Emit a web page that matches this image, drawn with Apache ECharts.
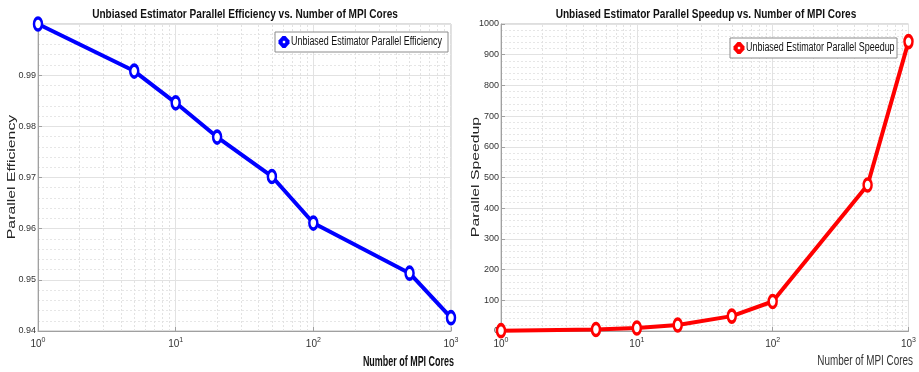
<!DOCTYPE html>
<html><head><meta charset="utf-8">
<script src="https://cdn.jsdelivr.net/npm/echarts@6/dist/echarts.min.js"></script>
<style>html,body{margin:0;padding:0;background:#fff}#c{width:919px;height:372px}</style>
</head><body><div id="c"></div>
<script>
const cores = [1, 5, 10, 20, 50, 100, 500, 1000];
const efficiency = [1.0, 0.9908, 0.9846, 0.9779, 0.9702, 0.9611, 0.9513, 0.9426];
const speedup = [1.0, 4.95, 9.85, 19.56, 48.51, 96.11, 475.6, 942.6];
const minorX = [2,3,4,5,6,7,8,9,20,30,40,50,60,70,80,90,200,300,400,500,600,700,800,900];
const titles = ['Unbiased Estimator Parallel Efficiency vs. Number of MPI Cores', 'Unbiased Estimator Parallel Speedup vs. Number of MPI Cores'];
const seriesNames = ['Unbiased Estimator Parallel Efficiency', 'Unbiased Estimator Parallel Speedup'];
const yNames = ['Parallel Efficiency', 'Parallel Speedup'];
const xName = 'Number of MPI Cores';

const FONT = '"Liberation Sans", Arial, Helvetica, sans-serif';
const chart = echarts.init(document.getElementById('c'));

function xAxis(gi) {
  return {
    type: 'log', logBase: 10, min: 1, max: 1000, gridIndex: gi,
    axisLine: {show: true, lineStyle: {color: '#a0a0a0'}},
    axisTick: {show: true, inside: true, length: 4, lineStyle: {color: '#a0a0a0'}},
    splitLine: {show: true, lineStyle: {color: '#e2e2e2', width: 1}},
    axisLabel: {
      margin: 6, color: '#333', fontFamily: FONT, fontSize: 10,
      formatter: v => '10{s|' + Math.round(Math.log10(v)) + '}',
      rich: {s: {fontSize: 7, padding: [0, 0, 7, 0], fontFamily: FONT, color: '#333'}}
    }
  };
}
function mk(gi, name, data, color) {
  return {
    name: name, type: 'line', xAxisIndex: gi, yAxisIndex: gi,
    data: cores.map((c, i) => [c, data[i]]),
    lineStyle: {color: color, width: 4},
    symbol: 'circle', symbolSize: [8, 12],
    itemStyle: {color: '#fff', borderColor: color, borderWidth: 3},
    z: 3
  };
}
function minor(gi) {
  return {
    type: 'line', xAxisIndex: gi, yAxisIndex: gi, data: [], silent: true, z: 1,
    markLine: {
      z: 1, silent: true, symbol: 'none', label: {show: false},
      lineStyle: {color: '#e2e2e2', type: [2, 2], width: 1},
      emphasis: {disabled: true},
      data: minorX.map(v => ({xAxis: v}))
    }
  };
}
function yAxis(gi, min, max, interval, fmt) {
  return {
    type: 'value', gridIndex: gi, min: min, max: max, interval: interval,
    axisLine: {show: true, lineStyle: {color: '#a0a0a0'}},
    axisTick: {show: true, inside: true, length: 4, lineStyle: {color: '#a0a0a0'}},
    axisLabel: {showMaxLabel: gi === 1, margin: 2, color: '#333', fontFamily: FONT, fontSize: 9, formatter: fmt},
    splitLine: {show: true, lineStyle: {color: '#e2e2e2'}},
    minorTick: {show: false, splitNumber: 5},
    minorSplitLine: {show: true, lineStyle: {color: '#e6e6e6', type: [2, 2]}}
  };
}
function narrowText(x, y, text, size, weight, align, sx, fill) {
  return {type: 'text', x: x, y: y, scaleX: sx, silent: true, z: 100,
    style: {text: text, fontFamily: FONT, fontSize: size, fontWeight: weight, fill: fill, align: align, verticalAlign: 'middle'}};
}
function yName(x, text) {
  return {type: 'text', x: x, y: 177, rotation: Math.PI / 2, scaleY: 0.66, silent: true, z: 100,
    style: {text: text, fontFamily: FONT, fontSize: 15.8, fill: '#222', align: 'center', verticalAlign: 'middle'}};
}
function legendParts(x, y, w, h, name, color) {
  const cy = y + h / 2, ix = x + 9;
  return [
    {type: 'rect', z: 100, silent: true, shape: {x: x, y: y, width: w, height: h}, style: {fill: '#fff', stroke: '#8c8c8c', lineWidth: 1}},
    {type: 'polygon', z: 101, silent: true, shape: {points: [[ix - 1.5, cy - 6], [ix + 1.5, cy - 6], [ix + 5.5, cy - 1.5], [ix + 5.5, cy + 1.5], [ix + 1.5, cy + 6], [ix - 1.5, cy + 6], [ix - 5.5, cy + 1.5], [ix - 5.5, cy - 1.5]]},
     style: {fill: color}},
    {type: 'rect', z: 102, silent: true, shape: {x: ix - 1.2, y: cy - 1.2, width: 2.4, height: 2.4}, style: {fill: '#fff'}},
    Object.assign(narrowText(x + 16, cy, name, 12, 'normal', 'left', 0.745, '#111'), {z: 103})
  ];
}

const option = {
  animation: false,
  grid: [
    {left: 38, top: 24, width: 413, height: 307, show: true, borderColor: '#bdbdbd', borderWidth: 1, backgroundColor: '#fff'},
    {left: 501, top: 24, width: 411, height: 307, show: true, borderColor: '#bdbdbd', borderWidth: 1, backgroundColor: '#fff'}
  ],
  xAxis: [xAxis(0), xAxis(1)],
  yAxis: [
    yAxis(0, 0.94, 1.0, 0.01, v => v.toFixed(2)),
    yAxis(1, 0, 1000, 100, v => String(v))
  ],
  graphic: [
    narrowText(245, 14, titles[0], 13, 'bold', 'center', 0.775, '#111'),
    narrowText(706, 14, titles[1], 13, 'bold', 'center', 0.775, '#111'),
    yName(12.5, yNames[0]),
    yName(476, yNames[1]),
    narrowText(454, 362, xName, 14, 'bold', 'right', 0.64, '#111'),
    narrowText(913, 361, xName, 15, 'normal', 'right', 0.66, '#333'),
    ...legendParts(275, 32, 173, 20, seriesNames[0], '#0000ff'),
    ...legendParts(730, 38, 167, 20, seriesNames[1], '#ff0000')
  ],
  series: [
    minor(0), minor(1),
    mk(0, seriesNames[0], efficiency, '#0000ff'),
    mk(1, seriesNames[1], speedup, '#ff0000')
  ]
};
chart.setOption(option);
</script></body></html>
